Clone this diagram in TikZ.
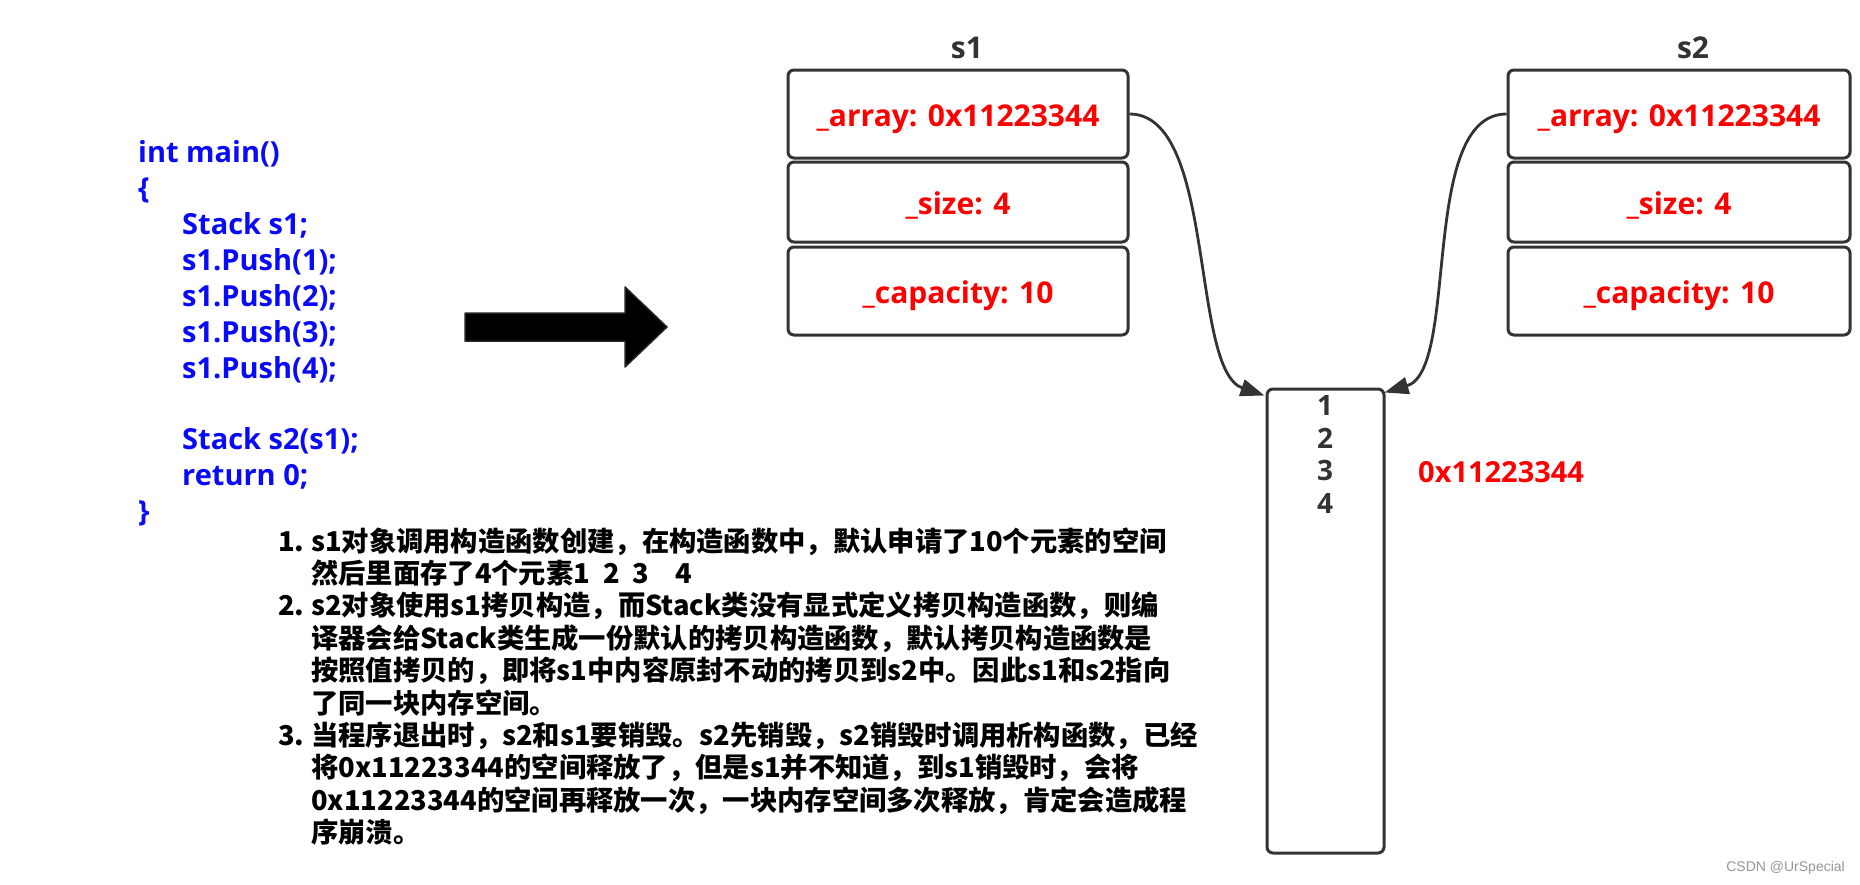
\documentclass[tikz,border=0pt]{standalone}
\usepackage{fontspec}
\usetikzlibrary{arrows.meta,calc}
\setmainfont{Open Sans}
\newfontfamily\osb{Open Sans}
\newfontfamily\cjk{Noto Sans CJK SC}
\newfontfamily\wmfont{Liberation Sans}
\definecolor{codeblue}{RGB}{10,10,250}
\definecolor{lblred}{RGB}{255,0,0}
\definecolor{edgegray}{RGB}{51,51,51}
\definecolor{wmgray}{RGB}{150,150,150}
\tikzset{
  codeline/.style={anchor=base west, inner sep=0pt, text=codeblue, font=\osb\bfseries\fontsize{29}{35}\selectfont},
  noteline/.style={anchor=base west, inner sep=0pt, text=black, font=\cjk\bfseries\fontsize{27.3}{32}\selectfont},
  fieldbox/.style={draw=edgegray, line width=3pt, rounded corners=6pt, inner sep=0pt, text height=25pt, text depth=0pt, text=lblred, font=\osb\bfseries\fontsize{30}{36}\selectfont},
  objlabel/.style={anchor=base, inner sep=0pt, text=edgegray, font=\osb\bfseries\fontsize{30}{36}\selectfont},
  memnum/.style={anchor=base, inner sep=0pt, text=edgegray, font=\osb\bfseries\fontsize{28}{34}\selectfont},
  ptr/.style={draw=edgegray, line width=2.8pt, -{Triangle[length=24pt,width=17pt]}},
}
\begin{document}
\begin{tikzpicture}[x=1pt,y=-1pt]
\useasboundingbox (0,0) rectangle (1860,884);
\fill[white] (0,0) rectangle (1860,884);

% code
\node[codeline] (c0) at (138,162.7) {int main()};
\node[codeline] (c1) at (138,198.6) {\{};
\node[codeline] (c2) at (182,234.5) {Stack s1;};
\node[codeline] (c3) at (182,270.4) {s1.Push(1);};
\node[codeline] (c4) at (182,306.3) {s1.Push(2);};
\node[codeline] (c5) at (182,342.2) {s1.Push(3);};
\node[codeline] (c6) at (182,378.1) {s1.Push(4);};
\node[codeline] (c7) at (182,449.9) {Stack s2(s1);};
\node[codeline] (c8) at (182,485.8) {return 0;};
\node[codeline] (c9) at (138,521.7) {\}};

% big arrow
\filldraw[fill=black, draw=black!85, line width=1.5pt, line join=round]
  (465,313) -- (625,313) -- (625,287) -- (667,327) -- (625,367) -- (625,341) -- (465,341) -- cycle;

% s1 object
\node[objlabel] (s1lbl) at (967,58) {s1};
\node[fieldbox, minimum width=340pt, minimum height=88pt] (a1) at (958,114) {\_array: 0x11223344};
\node[fieldbox, minimum width=340pt, minimum height=80pt] (b1) at (958,202) {\_size: 4};
\node[fieldbox, minimum width=340pt, minimum height=88pt] (k1) at (958,291) {\_capacity: 10};

% s2 object
\node[objlabel] (s2lbl) at (1693,58) {s2};
\node[fieldbox, minimum width=342pt, minimum height=88pt] (a2) at (1679,114) {\_array: 0x11223344};
\node[fieldbox, minimum width=342pt, minimum height=80pt] (b2) at (1679,202) {\_size: 4};
\node[fieldbox, minimum width=342pt, minimum height=88pt] (k2) at (1679,291) {\_capacity: 10};

% memory block
\node[draw=edgegray, line width=3pt, rounded corners=6pt, minimum width=117pt, minimum height=464pt, inner sep=0pt] (mem) at (1325.5,621) {};
\node[memnum] (m1) at (1325,415) {1};
\node[memnum] (m2) at (1325,448) {2};
\node[memnum] (m3) at (1325,480.5) {3};
\node[memnum] (m4) at (1325,513) {4};
\node[anchor=base west, inner sep=0pt, text=lblred, font=\osb\bfseries\fontsize{29}{35}\selectfont] (addr) at (1418,482) {0x11223344};

% pointers
\coordinate (tipL) at ($(mem.north west)+(-1,8)$);
\coordinate (tipR) at ($(mem.north east)+(-1,5)$);
\draw[ptr] (a1.east) .. controls +(87,0) and (1190,370) .. (tipL);
\draw[ptr] (a2.west) .. controls +(-88,0) and (1460,370) .. (tipR);

% notes
\node[noteline] (n1num) at (278,551) {1.};
\node[noteline] (n1a) at (311,551) {s1对象调用构造函数创建，在构造函数中，默认申请了10个元素的空间};
\node[noteline] (n1b) at (311,583.4) {然后里面存了4个元素1\hspace{13pt}2\hspace{13pt}3\hspace{26pt}4};
\node[noteline] (n2num) at (278,615.8) {2.};
\node[noteline] (n2a) at (311,615.8) {s2对象使用s1拷贝构造，而Stack类没有显式定义拷贝构造函数，则编};
\node[noteline] (n2b) at (311,648.2) {译器会给Stack类生成一份默认的拷贝构造函数，默认拷贝构造函数是};
\node[noteline] (n2c) at (311,680.6) {按照值拷贝的，即将s1中内容原封不动的拷贝到s2中。因此s1和s2指向};
\node[noteline] (n2d) at (311,713) {了同一块内存空间。};
\node[noteline] (n3num) at (278,745.4) {3.};
\node[noteline] (n3a) at (311,745.4) {当程序退出时，s2和s1要销毁。s2先销毁，s2销毁时调用析构函数，已经};
\node[noteline] (n3b) at (311,777.8) {将0x11223344的空间释放了，但是s1并不知道，到s1销毁时，会将};
\node[noteline] (n3c) at (311,810.2) {0x11223344的空间再释放一次，一块内存空间多次释放，肯定会造成程};
\node[noteline] (n3d) at (311,842.6) {序崩溃。};

% watermark
\node[anchor=base east, inner sep=0pt, text=wmgray, font=\wmfont\fontsize{14}{16}\selectfont] (wm) at (1845,871) {CSDN @UrSpecial};
\end{tikzpicture}
\end{document}
